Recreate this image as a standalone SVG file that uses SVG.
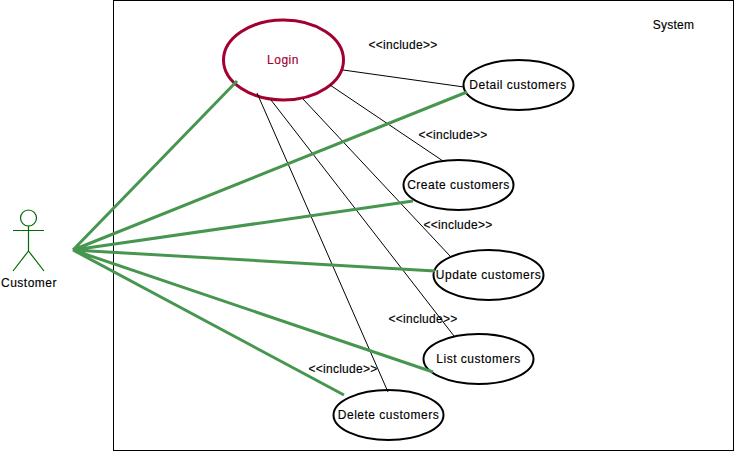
<svg xmlns="http://www.w3.org/2000/svg" width="734" height="451" viewBox="0 0 734 451">
<style>
text{font-family:"Liberation Sans",Arial,sans-serif;font-size:12px;fill:#000;text-anchor:middle;letter-spacing:.5px;stroke:#000;stroke-width:.15px}
text.i{letter-spacing:.25px}
.uc{fill:#fff;stroke:#000;stroke-width:2}
.g{stroke:#47964f;stroke-width:3;fill:none}
.k{stroke:#000;stroke-width:1;fill:none}
.a{stroke:#006b00;stroke-width:1.2;fill:none}
</style>
<rect id="system" x="113.500" y="0.500" width="620" height="450" fill="#fff" stroke="#000"/>
<text x="673.500" y="29" class="i">System</text>
<g id="login"><ellipse cx="283.500" cy="60" rx="60" ry="40" fill="#fff" stroke="#a20030" stroke-width="3"/><text x="283" y="64" style="fill:#a20030;stroke:#a20030">Login</text></g>
<g id="detail"><ellipse class="uc" cx="518.500" cy="85" rx="55" ry="25"/><text x="518" y="89">Detail customers</text></g>
<g id="create"><ellipse class="uc" cx="458.500" cy="185" rx="55" ry="25"/><text x="458.500" y="189">Create customers</text></g>
<g id="update"><ellipse class="uc" cx="488.500" cy="275" rx="55" ry="25"/><text x="488.500" y="279">Update customers</text></g>
<g id="list"><ellipse class="uc" cx="478.500" cy="359" rx="55" ry="25"/><text x="478.500" y="363">List customers</text></g>
<g id="delete"><ellipse class="uc" cx="388.500" cy="415" rx="55" ry="25"/><text x="388.500" y="419">Delete customers</text></g>
<g id="customer"><circle class="a" cx="28.500" cy="218" r="8"/><path class="a" d="M28.500 226V251M13 230.500H44M28.500 251L13 271M28.500 251L44 271"/><text x="29" y="287">Customer</text></g>
<text class="i" x="403" y="49">&lt;&lt;include&gt;&gt;</text>
<text class="i" x="453" y="139">&lt;&lt;include&gt;&gt;</text>
<text class="i" x="458" y="229">&lt;&lt;include&gt;&gt;</text>
<text class="i" x="423" y="323">&lt;&lt;include&gt;&gt;</text>
<text class="i" x="343" y="373">&lt;&lt;include&gt;&gt;</text>
<g id="connectors">
<path class="k" d="M343 70L464 87M330 85L443 161M303 99L450 256M271 100L454 336M257 93L388 392"/>
<path class="g" d="M73 250L237 81M73 250L467 92M73 250L413 201M73 250L435 271M73 250L433 372M73 250L344 395"/>
</g>
</svg>
